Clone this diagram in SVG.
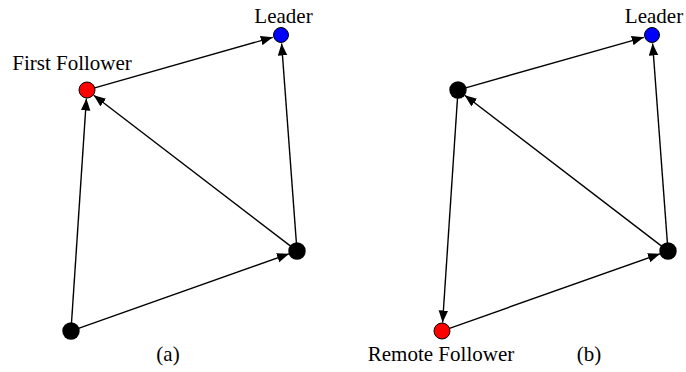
<svg xmlns="http://www.w3.org/2000/svg" width="686" height="372" viewBox="0 0 686 372">
  <style>
    .edge { stroke: #000; stroke-width: 1.4; fill: none; marker-end: url(#arrow); }
    .lbl { font-family: 'Liberation Serif', Tinos, 'Times New Roman', Times, 'DejaVu Serif', serif; font-size: 21px; fill: #000; text-anchor: middle; }
    .blue { fill: #0000ff; stroke: #000; stroke-width: 1; }
    .red { fill: #ff0000; stroke: #000; stroke-width: 1; }
    .black { fill: #000; }
  </style>
  <defs>
    <marker id="arrow" markerUnits="userSpaceOnUse" markerWidth="13" markerHeight="10" refX="12" refY="4.75" orient="auto">
      <path d="M0,0 L12,4.75 L0,9.5 z" fill="#000"/>
    </marker>
  </defs>
  <rect width="686" height="372" fill="#fff"/>

  <!-- connectors -->
  <g id="connectors">
    <!-- panel (a) -->
    <line class="edge" x1="94.7" y1="87.8" x2="272.8" y2="37.3"/>
    <line class="edge" x1="296.4" y1="243" x2="281.6" y2="43.5"/>
    <line class="edge" x1="290.6" y1="246.1" x2="93.7" y2="95.2"/>
    <line class="edge" x1="71.5" y1="323" x2="86.4" y2="98.5"/>
    <line class="edge" x1="78.5" y1="328.3" x2="289" y2="253.8"/>
    <!-- panel (b) -->
    <line class="edge" x1="465.7" y1="87.8" x2="643.8" y2="37.3"/>
    <line class="edge" x1="667.4" y1="243" x2="652.6" y2="43.5"/>
    <line class="edge" x1="661.6" y1="246.1" x2="464.7" y2="95.2"/>
    <line class="edge" x1="457.5" y1="98" x2="442.6" y2="322.5"/>
    <line class="edge" x1="449.5" y1="328.3" x2="660" y2="253.8"/>
  </g>

  <!-- panel (a) nodes -->
  <g id="a-leader">
    <circle class="blue" cx="281" cy="35" r="7.5"/>
    <text class="lbl" x="283.5" y="23">Leader</text>
  </g>
  <g id="a-first-follower">
    <circle class="red" cx="87" cy="90" r="8"/>
    <text class="lbl" x="72" y="70">First Follower</text>
  </g>
  <g id="a-right">
    <circle class="black" cx="297" cy="251" r="8.7"/>
  </g>
  <g id="a-bottom">
    <circle class="black" cx="71" cy="331" r="8.7"/>
  </g>
  <text class="lbl" x="168" y="361">(a)</text>

  <!-- panel (b) nodes -->
  <g id="b-leader">
    <circle class="blue" cx="652" cy="35" r="7.5"/>
    <text class="lbl" x="654" y="23">Leader</text>
  </g>
  <g id="b-top">
    <circle class="black" cx="458" cy="90" r="8.7"/>
  </g>
  <g id="b-right">
    <circle class="black" cx="668" cy="251" r="8.7"/>
  </g>
  <g id="b-remote-follower">
    <circle class="red" cx="442" cy="331" r="8"/>
    <text class="lbl" x="441" y="361">Remote Follower</text>
  </g>
  <text class="lbl" x="589" y="361">(b)</text>
</svg>
